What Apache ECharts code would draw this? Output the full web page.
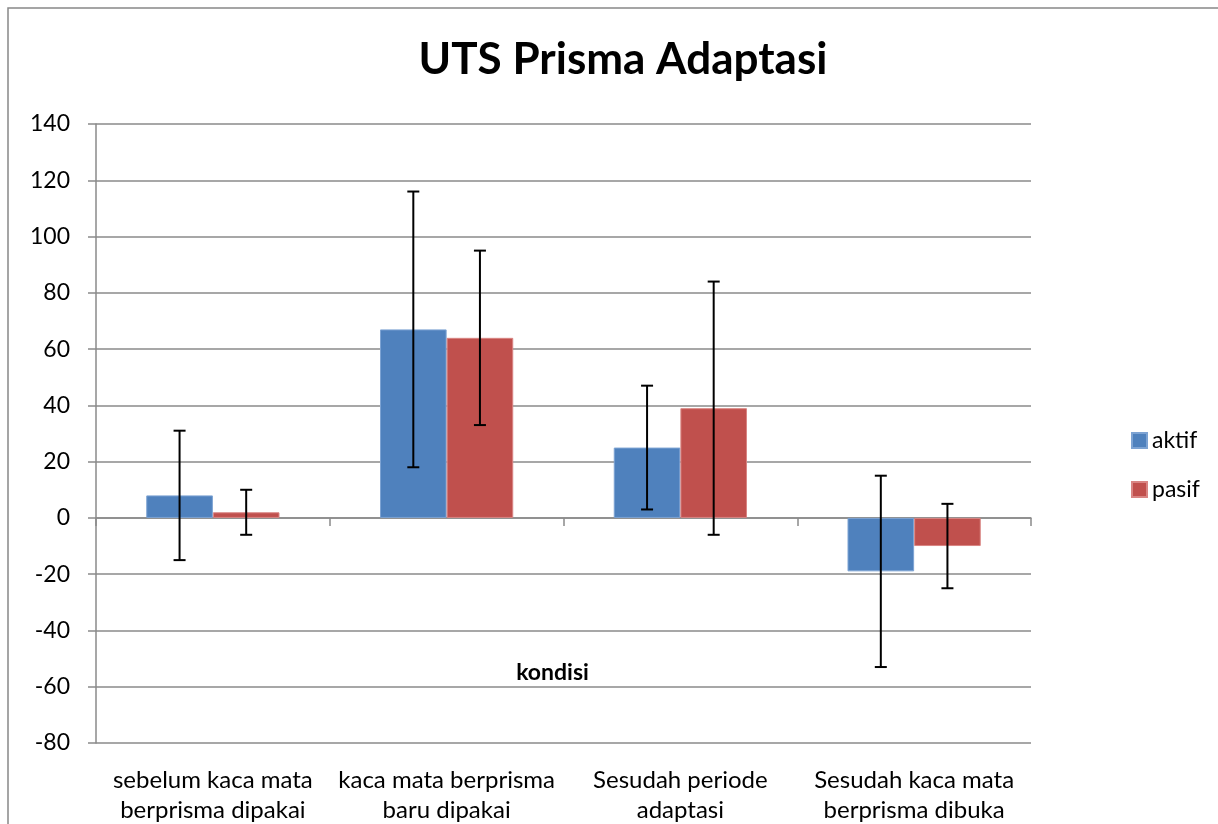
<!DOCTYPE html>
<html>
<head>
<meta charset="utf-8">
<script src="https://cdn.jsdelivr.net/npm/echarts@6/dist/echarts.min.js"></script>
<style>
  html, body { margin: 0; padding: 0; background: #fff; }
  #chart { width: 1218px; height: 824px; }
</style>
</head>
<body>
<div id="chart"></div>
<script>
// kondisi (categories)
var categories = [
  "sebelum kaca mata\nberprisma dipakai",
  "kaca mata berprisma\nbaru dipakai",
  "Sesudah periode\nadaptasi",
  "Sesudah kaca mata\nberprisma dibuka"
];
var aktif = [8, 67, 25, -19];
var pasif = [2, 64, 39, -10];
// error bar ends [low, high]
var aktifErr = [[-15, 31], [18, 116], [3, 47], [-53, 15]];
var pasifErr = [[-6, 10], [33, 95], [-6, 84], [-25, 5]];
var yTicks = { min: -80, max: 140, step: 20 };

var FONT = "Lato, 'Open Sans', sans-serif";
var myChart = echarts.init(document.getElementById("chart"));

function errData(arr) {
  var out = [];
  for (var i = 0; i < arr.length; i++) {
    out.push([i, arr[i][0], arr[i][1]]);
  }
  return out;
}

// side: -1 aktif (left bar), +1 pasif (right bar)
function errRender(side) {
  return function (params, api) {
    var band = api.size([1, 0])[0];
    var barW = band * 0.57 / 2;
    var lo = api.coord([api.value(0), api.value(1)]);
    var hi = api.coord([api.value(0), api.value(2)]);
    var x = lo[0] + side * barW / 2;
    var cap = 6;
    var st = { stroke: "#000", lineWidth: 2 };
    return {
      type: "group",
      children: [
        { type: "line", shape: { x1: x, y1: hi[1], x2: x, y2: lo[1] }, style: st },
        { type: "line", shape: { x1: x - cap, y1: hi[1], x2: x + cap, y2: hi[1] }, style: st },
        { type: "line", shape: { x1: x - cap, y1: lo[1], x2: x + cap, y2: lo[1] }, style: st }
      ]
    };
  };
}

var option = {
  animation: false,
  backgroundColor: "#fff",
  textStyle: { fontFamily: FONT },
  title: {
    text: "UTS Prisma Adaptasi",
    left: 618,
    textAlign: "center",
    top: 33,
    textStyle: { fontFamily: FONT, fontSize: 44, fontWeight: "bold", color: "#000" }
  },
  graphic: [
    {
      type: "rect",
      shape: { x: 8, y: 8, width: 1240, height: 850 },
      style: { fill: "none", stroke: "#888", lineWidth: 1.5 },
      silent: true
    }
  ],
  legend: {
    data: ["aktif", "pasif"],
    orient: "vertical",
    left: 1126,
    top: 424,
    icon: "rect",
    itemWidth: 15,
    itemHeight: 15,
    itemGap: 26,
    textStyle: { fontFamily: FONT, fontSize: 23, color: "#000" }
  },
  grid: { left: 96, right: 187, top: 124, bottom: 81, outerBoundsMode: "none", containLabel: false },
  xAxis: [
    {
      type: "category",
      data: categories,
      position: "bottom",
      axisLine: { show: false, onZero: false },
      axisTick: { show: false },
      axisLabel: {
        interval: 0,
        margin: 22,
        fontFamily: FONT,
        fontSize: 24,
        lineHeight: 30,
        color: "#000"
      }
    },
    {
      type: "category",
      data: categories,
      position: "bottom",
      axisLine: { show: true, onZero: true, lineStyle: { color: "#8a8a8a", width: 1.5 } },
      axisTick: { show: true, length: 8, alignWithLabel: false, lineStyle: { color: "#8a8a8a", width: 1.5 } },
      axisLabel: { show: false },
      name: "kondisi",
      nameLocation: "middle",
      nameGap: -82,
      nameTextStyle: { fontFamily: FONT, fontSize: 23, fontWeight: "bold", color: "#000", padding: [0, 22, 0, 0] }
    }
  ],
  yAxis: {
    type: "value",
    min: yTicks.min,
    max: yTicks.max,
    interval: yTicks.step,
    axisLine: { show: true, lineStyle: { color: "#8a8a8a", width: 1.5 } },
    axisTick: { show: true, length: 8, lineStyle: { color: "#8a8a8a", width: 1.5 } },
    axisLabel: { fontFamily: FONT, fontSize: 23, color: "#000", margin: 26 },
    splitLine: { show: true, lineStyle: { color: "#8a8a8a", width: 1.5 } }
  },
  series: [
    {
      name: "aktif",
      type: "bar",
      data: aktif,
      barGap: "0%",
      barCategoryGap: "43%",
      itemStyle: { color: "#4F81BD", borderColor: "#7da3d3", borderWidth: 1 },
      z: 2
    },
    {
      name: "pasif",
      type: "bar",
      data: pasif,
      barGap: "0%",
      barCategoryGap: "43%",
      itemStyle: { color: "#C0504D", borderColor: "#d98583", borderWidth: 1 },
      z: 2
    },
    {
      name: "aktif err",
      type: "custom",
      renderItem: errRender(-1),
      data: errData(aktifErr),
      encode: { x: 0, y: [1, 2] },
      z: 5
    },
    {
      name: "pasif err",
      type: "custom",
      renderItem: errRender(1),
      data: errData(pasifErr),
      encode: { x: 0, y: [1, 2] },
      z: 5
    }
  ]
};

myChart.setOption(option);
</script>
</body>
</html>
